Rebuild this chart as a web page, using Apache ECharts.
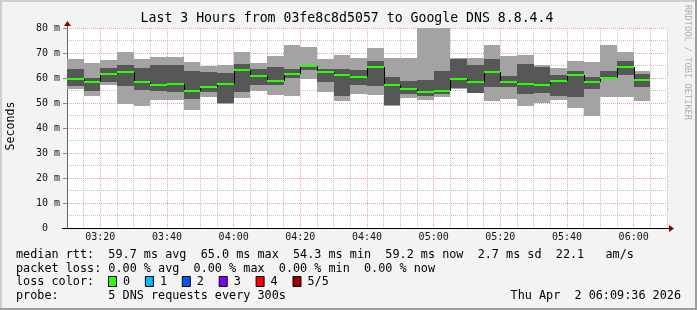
<!DOCTYPE html>
<html><head><meta charset="utf-8">
<script src="https://cdn.jsdelivr.net/npm/echarts@6/dist/echarts.min.js"></script>
<style>html,body{margin:0;padding:0;background:#f3f3f3}#c{width:697px;height:310px}</style>
</head><body><div id="c"></div>
<script>
// ---- data ----
const barStarts = ['03:10','03:15','03:20','03:25','03:30','03:35','03:40','03:45','03:50','03:55',
  '04:00','04:05','04:10','04:15','04:20','04:25','04:30','04:35','04:40','04:45',
  '04:50','04:55','05:00','05:05','05:10','05:15','05:20','05:25','05:30','05:35',
  '05:40','05:45','05:50','05:55','06:00'];
const minVals = [55.5,52.9,57.2,49.7,48.9,51.4,51.3,47.3,52.4,49.7,52.1,54.9,53.2,52.8,59.7,54.5,51.0,53.6,53.3,48.8,
  51.9,51.2,52.4,55.6,54.1,50.9,51.6,48.9,50.2,51.4,48.0,45.0,52.3,52.4,50.9];
const lowVals = [56.9,54.9,58.4,56.9,55.3,54.8,54.5,51.6,54.5,49.9,54.5,57.2,57.2,60.2,63.3,58.5,52.8,57.2,56.8,49.4,
  53.5,52.8,53.5,55.9,54.2,56.5,56.5,53.6,53.9,52.8,52.4,55.6,59.9,61.2,56.5];
const medianVals = [59.7,58.5,61.7,62.5,58.5,57.3,57.7,54.9,56.4,57.7,63.4,60.8,58.9,61.7,65.0,62.5,61.2,60.5,64.5,57.3,
  55.7,54.3,54.9,59.7,58.5,62.3,58.5,57.7,57.3,58.9,61.3,58.5,60.1,64.5,59.2];
const highVals = [63.7,60.0,64.0,65.2,64.1,65.2,65.2,62.8,62.4,62.1,65.6,63.7,64.4,63.7,65.3,63.7,63.7,63.3,66.8,60.4,
  58.9,59.2,62.8,67.6,65.2,67.6,60.8,65.6,64.5,61.2,62.8,60.5,62.8,66.8,61.6];
const maxVals = [67.6,66.1,67.1,70.3,67.6,68.4,68.4,66.4,64.7,65.2,70.3,66.1,68.9,73.2,72.4,67.6,69.2,68.0,72.0,68.0,
  68.0,85.0,85.0,67.9,68.0,73.2,68.8,69.2,65.2,64.1,66.8,66.4,73.2,70.3,62.8];
const xTickLabels = ['03:20','03:40','04:00','04:20','04:40','05:00','05:20','05:40','06:00'];
const yTickLabels = ['0','10 m','20 m','30 m','40 m','50 m','60 m','70 m','80 m'];
const lossLabels = ['0','1','2','3','4','5/5'];
const lossColors = ['#26ff00','#00b8ff','#0059ff','#7e00ff','#ff0000','#a10000'];
const rttStats = ['59.7','65.0','54.3','59.2'];   // avg, max, min, now
const rttSd = '2.7';
const amPerSec = '22.1';
const lossStats = ['0.00','0.00','0.00','0.00']; // avg, max, min, now
const titleText = 'Last 3 Hours from 03fe8c8d5057 to Google DNS 8.8.4.4';
const probeText = '5 DNS requests every 300s';
const dateText = 'Thu Apr  2 06:09:36 2026';
const stepMin = 5;
const xStart = '03:10', xEnd = '06:10';

// ---- helpers ----
const toMin = s => (+s.slice(0,2))*60 + (+s.slice(3));
const fmtMin = v => String(Math.floor(v/60)).padStart(2,'0') + ':' + String(v%60).padStart(2,'0');
const mono = 'DejaVu Sans Mono';

const smokeData = barStarts.map((s,i) => [toMin(s), minVals[i], lowVals[i], highVals[i], maxVals[i]]);
const medData = barStarts.map((s,i) => [toMin(s), medianVals[i], i>0 ? medianVals[i-1] : medianVals[i]]);

function renderSmoke(params, api) {
  const cs = params.coordSys;
  const t = api.value(0);
  const x0 = Math.round(api.coord([t,0])[0]);
  const x1 = Math.round(api.coord([t+stepMin,0])[0]);
  const clampY = y => Math.max(cs.y, Math.min(cs.y+cs.height, y));
  const yMin = Math.round(clampY(api.coord([t,api.value(1)])[1]));
  const yLow = Math.round(clampY(api.coord([t,api.value(2)])[1]));
  const yHigh = Math.round(clampY(api.coord([t,api.value(3)])[1]));
  const yMax = Math.round(clampY(api.coord([t,api.value(4)])[1]));
  return {type:'group', children:[
    {type:'rect', shape:{x:x0,y:yMax,width:x1-x0,height:yMin-yMax}, style:{fill:'#a3a3a3'}},
    {type:'rect', shape:{x:x0,y:yHigh,width:x1-x0,height:yLow-yHigh}, style:{fill:'#575757'}}
  ]};
}
function renderMedian(params, api) {
  const t = api.value(0);
  const x0 = Math.round(api.coord([t,0])[0]);
  const x1 = Math.round(api.coord([t+stepMin,0])[0]);
  const y = Math.round(api.coord([t,api.value(1)])[1]);
  const yp = Math.round(api.coord([t,api.value(2)])[1]);
  return {type:'group', children:[
    {type:'line', shape:{x1:x0+0.5,y1:yp,x2:x0+0.5,y2:y}, style:{stroke:'#000',lineWidth:1}},
    {type:'rect', shape:{x:x0,y:y-1,width:x1-x0,height:2}, style:{fill:lossColors[0]}}
  ]};
}

const line1 = 'median rtt:  ' + rttStats[0] + ' ms avg  ' + rttStats[1] + ' ms max  ' + rttStats[2] + ' ms min  ' +
  rttStats[3] + ' ms now  ' + rttSd + ' ms sd  ' + amPerSec + '   am/s';
const line2 = 'packet loss: ' + lossStats[0] + ' % avg  ' + lossStats[1] + ' % max  ' + lossStats[2] + ' % min  ' + lossStats[3] + ' % now';
const line4 = 'probe:       ' + probeText;

const graphics = [];
// frame
graphics.push({type:'rect',shape:{x:0,y:0,width:697,height:2},style:{fill:'#cfcfcf'},silent:true});
graphics.push({type:'rect',shape:{x:0,y:0,width:2,height:310},style:{fill:'#cfcfcf'},silent:true});
graphics.push({type:'rect',shape:{x:0,y:308,width:697,height:2},style:{fill:'#9e9e9e'},silent:true});
graphics.push({type:'rect',shape:{x:695,y:0,width:2,height:310},style:{fill:'#9e9e9e'},silent:true});
// axis extensions and arrows
graphics.push({type:'line',shape:{x1:67.5,y1:28,x2:67.5,y2:24},style:{stroke:'#666',lineWidth:1},z:10});
graphics.push({type:'polygon',shape:{points:[[64,26],[71,26],[67.5,21]]},style:{fill:'#8b0000'},z:10});
graphics.push({type:'line',shape:{x1:62,y1:228.5,x2:670,y2:228.5},style:{stroke:'#000',lineWidth:1},z:10});
graphics.push({type:'polygon',shape:{points:[[669,225],[669,232],[674,228.5]]},style:{fill:'#8b0000'},z:10});
// title
graphics.push({type:'text',x:347,y:19,style:{text:titleText,font:'13.2px "'+mono+'"',fill:'#000',textAlign:'center',textVerticalAlign:'middle'}});
// y axis name
graphics.push({type:'text',x:11,y:126,rotation:Math.PI/2,style:{text:'Seconds',font:'11.6px "'+mono+'"',fill:'#000',textAlign:'center',textVerticalAlign:'middle'}});
// watermark
graphics.push({type:'text',x:687,y:5,rotation:-Math.PI/2,style:{text:'RRDTOOL / TOBI OETIKER',font:'8.7px "'+mono+'"',fill:'#b0b0b0',textAlign:'left',textVerticalAlign:'middle'}});
// legend lines
const legFont = '11.8px "'+mono+'"';
graphics.push({type:'text',x:16,y:254.5,style:{text:line1,font:legFont,fill:'#000',textVerticalAlign:'middle'}});
graphics.push({type:'text',x:16,y:268.5,style:{text:line2,font:legFont,fill:'#000',textVerticalAlign:'middle'}});
graphics.push({type:'text',x:16,y:282,style:{text:'loss color:',font:legFont,fill:'#000',textVerticalAlign:'middle'}});
lossLabels.forEach((l,i) => {
  const bx = 108.5 + i*36.9;
  graphics.push({type:'rect',shape:{x:bx,y:276.5,width:8,height:10},style:{fill:lossColors[i],stroke:'#000',lineWidth:1}});
  graphics.push({type:'text',x:bx+14.5,y:282,style:{text:l,font:legFont,fill:'#000',textVerticalAlign:'middle'}});
});
graphics.push({type:'text',x:16,y:296,style:{text:line4,font:legFont,fill:'#000',textVerticalAlign:'middle'}});
graphics.push({type:'text',x:681,y:296,style:{text:dateText,font:legFont,fill:'#000',textAlign:'right',textVerticalAlign:'middle'}});

const minorC = '#c4c4c4', majorC = '#f2a0a0';
const chart = echarts.init(document.getElementById('c'), null, {renderer:'canvas'});
chart.setOption({
  animation:false,
  backgroundColor:'#f3f3f3',
  grid:{left:67,top:28,width:600,height:200,show:true,backgroundColor:'#ffffff',borderWidth:0},
  xAxis:{type:'value',min:toMin(xStart),max:toMin(xEnd),interval:stepMin,
    axisLine:{show:false},axisTick:{show:false},
    axisLabel:{margin:4,fontFamily:mono,fontSize:10,color:'#111',
      formatter:v => xTickLabels.includes(fmtMin(v)) ? fmtMin(v) : ''},
    splitLine:{show:true,lineStyle:{color:[minorC,minorC,majorC,minorC],width:1,type:[1,1]}}},
  yAxis:{type:'value',min:0,max:80,interval:10,
    axisLine:{show:true,lineStyle:{color:'#666',width:1}},
    axisTick:{show:true,length:4,lineStyle:{color:'#888'}},
    axisLabel:{margin:7,fontFamily:mono,fontSize:10,color:'#111',
      formatter:v => { const s = yTickLabels[Math.round(v/10)]; return s === '0' ? '0  ' : s; }},
    splitLine:{show:true,lineStyle:{color:majorC,width:1,type:[1,1]}},
    minorTick:{show:false,splitNumber:2},
    minorSplitLine:{show:true,lineStyle:{color:minorC,width:1,type:[1,1]}}},
  series:[
    {type:'custom',renderItem:renderSmoke,data:smokeData,z:2,encode:{x:0,y:[1,4]}},
    {type:'custom',renderItem:renderMedian,data:medData,z:3,encode:{x:0,y:1}}
  ],
  graphic:graphics
});
</script></body></html>
